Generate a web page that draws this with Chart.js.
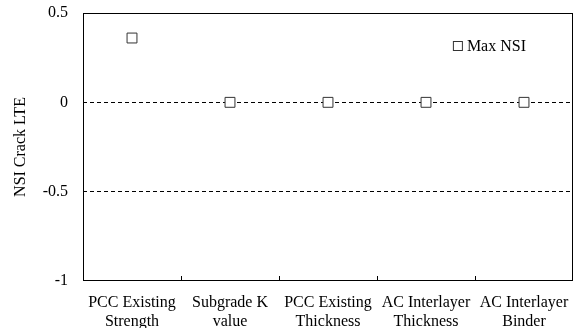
<!DOCTYPE html>
<html>
<head>
<meta charset="utf-8">
<script src="https://cdn.jsdelivr.net/npm/chart.js@4/dist/chart.umd.min.js"></script>
<style>
  html,body{margin:0;padding:0;background:#fff;}
  #wrap{width:581px;height:328px;}
</style>
</head>
<body>
<div id="wrap"><canvas id="myChart" width="581" height="328"></canvas></div>
<script>
'use strict';
const categories=[['PCC Existing','Strength'],['Subgrade K','value'],['PCC Existing','Thickness'],['AC Interlayer','Thickness'],['AC Interlayer','Binder']];
const maxNSI=[0.36,0,0,0,0];
const yTicks=[0.5,0,-0.5,-1];
const seriesName='Max NSI';
const yTitle='NSI Crack LTE';

const serif='"Liberation Serif", "Times New Roman", serif';

// frame, inward category ticks and the in-plot legend
const framePlugin={
  id:'frame',
  afterDraw(chart){
    let ctx=chart.ctx;
    let a=chart.chartArea;
    let x=chart.scales.x;
    ctx.save();
    ctx.strokeStyle='#000';
    ctx.lineWidth=1;
    ctx.strokeRect(Math.round(a.left)+0.5,Math.round(a.top)+0.5,Math.round(a.right-a.left)-1,Math.round(a.bottom-a.top)-1);
    for(let i=1;i<categories.length;i++){
      let px=Math.round((x.getPixelForValue(i-1)+x.getPixelForValue(i))/2)+0.5;
      ctx.beginPath();
      ctx.moveTo(px,a.bottom);
      ctx.lineTo(px,a.bottom-5);
      ctx.stroke();
    }
    // legend
    ctx.font='16px '+serif;
    ctx.textBaseline='middle';
    let tw=ctx.measureText(seriesName).width;
    let ly=a.top+33;
    let tx=a.right-tw-47;
    ctx.fillStyle='#fff';
    ctx.strokeStyle='#333';
    ctx.fillRect(tx-13.5,ly-4.5,9,9);
    ctx.strokeRect(tx-13.5,ly-4.5,9,9);
    ctx.fillStyle='#000';
    ctx.fillText(seriesName,tx,ly+1);
    ctx.restore();
  }
};

function chartRender(){
  let ctx=document.getElementById('myChart').getContext('2d');
  new Chart(ctx,{
    type:'line',
    data:{
      labels:categories,
      datasets:[{
        label:seriesName,
        data:maxNSI,
        showLine:false,
        pointStyle:'rect',
        pointRadius:7,
        pointBorderWidth:1,
        pointBackgroundColor:'#fff',
        pointBorderColor:'#333'
      }]
    },
    options:{
      responsive:false,
      animation:false,
      layout:{padding:{top:13,right:4,left:0,bottom:0}},
      plugins:{legend:{display:false},tooltip:{enabled:false}},
      scales:{
        x:{
          offset:true,
          grid:{display:false},
          border:{display:false},
          ticks:{color:'#000',font:{family:serif,size:16},padding:4,maxRotation:0,autoSkip:false},
          afterFit(s){s.height=47;s.paddingLeft=0;s.paddingRight=0;}
        },
        y:{
          min:-1,max:0.5,
          afterBuildTicks(s){s.ticks=yTicks.map(v=>({value:v}));},
          grid:{
            drawTicks:false,
            color(c){return (c.tick && (c.tick.value===0||c.tick.value===-0.5))?'#000':'rgba(0,0,0,0)';},
            lineWidth:1
          },
          border:{display:false,dash:[4,3]},
          ticks:{color:'#000',font:{family:serif,size:16},padding:15,callback(v){return String(v);}},
          title:{display:true,text:yTitle,color:'#000',font:{family:serif,size:16},padding:{top:11,bottom:0}},
          afterFit(s){s.width=83;s.paddingTop=0;s.paddingBottom=0;}
        }
      }
    },
    plugins:[framePlugin]
  });
}
chartRender();
</script>
</body>
</html>
